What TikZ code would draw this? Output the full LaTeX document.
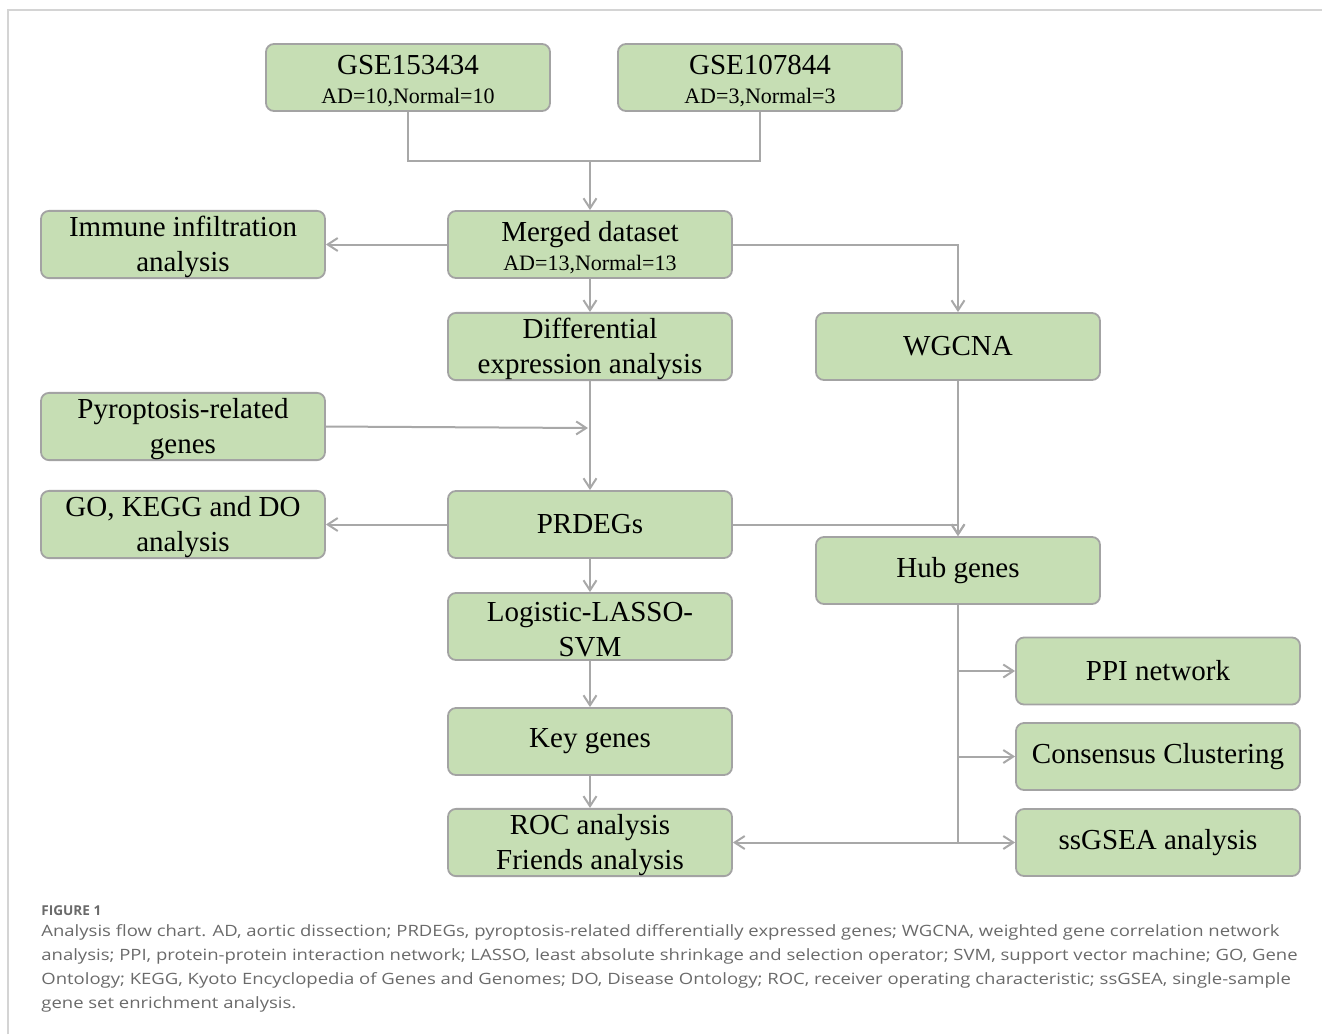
\documentclass[tikz,border=0pt]{standalone}
\usepackage{fontspec}
\setmainfont{Liberation Serif}
\newfontfamily\capfont[FakeStretch=1.185]{Open Sans}
\newfontfamily\figfont{Open Sans}
\usetikzlibrary{arrows.meta}
\definecolor{boxfill}{HTML}{C6DEB4}
\definecolor{boxline}{HTML}{A3A3A3}
\definecolor{linegray}{HTML}{A8A8A8}
\definecolor{framegray}{HTML}{D4D4D4}
\definecolor{captext}{HTML}{6A6A6A}
\newcommand{\subline}[1]{{\fontsize{11}{13}\selectfont #1}}
\newcommand{\toprule}{\rule{0pt}{13pt}}
\tikzset{
  stepbox/.style={draw=boxline, fill=boxfill, line width=0.9pt, rounded corners=4pt,
    minimum width=142pt, minimum height=33.5pt, inner sep=0pt, align=center,
    font=\fontsize{14.5}{17.5}\selectfont},
  link/.style={draw=linegray, line width=1pt},
  flow/.style={link, -{Straight Barb[length=5pt,width=6.5pt]}}
}
\begin{document}
\begin{tikzpicture}[x=0.5pt,y=-0.5pt]
	\useasboundingbox (0,0) rectangle (1322,1034);
	\draw[framegray, line width=0.8pt] (8,1034)--(8,10)--(1322,10);

            \node[stepbox] (gseA) at (408,77.5) {\toprule GSE153434\\[-3pt]\subline{AD=10,Normal=10}};
            \node[stepbox] (gseB) at (760,77.5) {\toprule GSE107844\\[-3pt]\subline{AD=3,Normal=3}};
            \node[stepbox] (merged) at (590,244.5) {\toprule Merged dataset\\[-3pt]\subline{AD=13,Normal=13}};
            \node[stepbox] (immune) at (183,244.5) {\toprule Immune infiltration\\analysis};
            \node[stepbox] (diffexp) at (590,346.5) {\toprule Differential\\expression analysis};
            \node[stepbox] (wgcna) at (958,346.5) {WGCNA};
            \node[stepbox] (pyro) at (183,426.5) {\toprule Pyroptosis-related\\genes};
            \node[stepbox] (enrich) at (183,524.5) {\toprule GO, KEGG and DO\\analysis};
            \node[stepbox] (prdegs) at (590,524.5) {PRDEGs};
            \node[stepbox] (hub) at (958,570.5) {Hub genes};
            \node[stepbox] (lasso) at (590,626.5) {\toprule Logistic-LASSO-\\SVM};
            \node[stepbox] (key) at (590,741.5) {Key genes};
            \node[stepbox] (roc) at (590,842.5) {\toprule ROC analysis\\Friends analysis};
            \node[stepbox] (ppi) at (1158,671) {PPI network};
            \node[stepbox] (cons) at (1158,756.5) {Consensus Clustering};
            \node[stepbox] (ssgsea) at (1158,842.5) {ssGSEA analysis};

            \coordinate (join) at (590,161);
            \draw[link] (gseA.south) |- (join);
            \draw[link] (gseB.south) |- (join);
            \draw[flow] (join) -- (merged.north);

            \draw[flow] (merged.west) -- (immune.east);
            \draw[flow] (merged.east) -| (wgcna.north);
            \draw[flow] (merged.south) -- (diffexp.north);
            \draw[flow] (diffexp.south) -- (prdegs.north);

            \coordinate (pyroend) at (588,428);
            \draw[flow] (pyro.east) -- (pyroend);

            \draw[flow] (prdegs.west) -- (enrich.east);
            \draw[flow] (prdegs.east) -| (hub.north);
            \draw[flow] (wgcna.south) -- (hub.north);
            \draw[flow] (prdegs.south) -- (lasso.north);
            \draw[flow] (lasso.south) -- (key.north);
            \draw[flow] (key.south) -- (roc.north);

            \coordinate (hubend) at (hub.south |- ssgsea.west);
            \draw[link] (hub.south) -- (hubend);
            \draw[flow] (hubend) -- (roc.east);
            \foreach \target in {ppi,cons,ssgsea}{
              \draw[flow] (hub.south |- \target.west) -- (\target.west);
            }

            \node[anchor=west, inner sep=0pt, text=captext, font=\figfont\bfseries\fontsize{6.8}{8}\selectfont] (figlabel) at (41,911) {FIGURE 1};
            \node[anchor=north west, inner sep=0pt, align=left, text=captext, font=\capfont\fontsize{7.8}{12}\selectfont] (caption) at (41,924) {Analysis flow chart. AD, aortic dissection; PRDEGs, pyroptosis-related differentially expressed genes; WGCNA, weighted gene correlation network\\analysis; PPI, protein-protein interaction network; LASSO, least absolute shrinkage and selection operator; SVM, support vector machine; GO, Gene\\Ontology; KEGG, Kyoto Encyclopedia of Genes and Genomes; DO, Disease Ontology; ROC, receiver operating characteristic; ssGSEA, single-sample\\gene set enrichment analysis.};
        \end{tikzpicture}
\end{document}
